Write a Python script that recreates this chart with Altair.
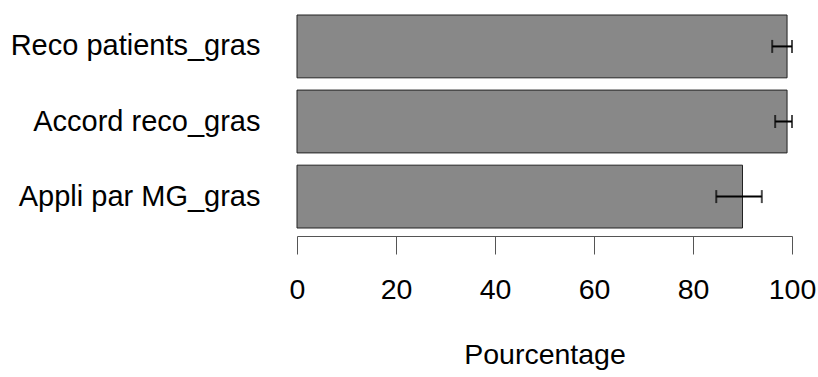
import altair as alt
import pandas as pd

# Survey items, top to bottom
items = ["Reco patients_gras", "Accord reco_gras", "Appli par MG_gras"]
pct = [99.0, 99.0, 90.0]
ci_low = [96.0, 96.6, 84.7]
ci_high = [100.0, 100.0, 93.9]

df = pd.DataFrame({"item": items, "pct": pct, "lo": ci_low, "hi": ci_high})

FONT = "Liberation Sans"

y_enc = alt.Y(
    "item:N",
    sort=items,
    title=None,
    scale=alt.Scale(paddingInner=0.163, paddingOuter=0),
    axis=alt.Axis(domain=False, ticks=False, labelPadding=37, labelFontSize=29,
                  labelFont=FONT, labelColor="black", labelLimit=400),
)

x_scale = alt.Scale(domain=[0, 100], nice=False, zero=True)

bars = alt.Chart(df).mark_bar(color="#888888", stroke="#222222", strokeWidth=1).encode(
    x=alt.X(
        "pct:Q",
        scale=x_scale,
        title="Pourcentage",
        axis=alt.Axis(
            values=[0, 20, 40, 60, 80, 100], grid=False, offset=8,
            tickSize=18, tickColor="#555555", domainColor="#555555",
            labelFlush=False, labelOverlap=False,
            labelFontSize=28.5, labelFont=FONT, labelColor="black", labelPadding=21,
            titleFontSize=28.5, titleFont=FONT, titleFontWeight="normal",
            titleColor="black", titlePadding=37,
        ),
    ),
    y=y_enc,
)

whisker = alt.Chart(df).mark_rule(color="black", strokeWidth=2).encode(
    x=alt.X("lo:Q", scale=x_scale), x2="hi:Q", y=alt.Y("item:N", sort=items)
)
cap_lo = alt.Chart(df).mark_tick(color="black", thickness=2, size=13).encode(
    x=alt.X("lo:Q", scale=x_scale), y=alt.Y("item:N", sort=items)
)
cap_hi = alt.Chart(df).mark_tick(color="black", thickness=2, size=13).encode(
    x=alt.X("hi:Q", scale=x_scale), y=alt.Y("item:N", sort=items)
)

chart = (
    alt.layer(bars, whisker, cap_lo, cap_hi)
    .properties(
        width=495, height=213,
        autosize=alt.AutoSizeParams(type="none"),
        padding={"left": 297, "top": 15, "right": 26, "bottom": 149},
        background="white",
    )
    .configure_view(stroke=None)
)

chart.save("out.html", embed_options={"renderer": "svg", "actions": False})
